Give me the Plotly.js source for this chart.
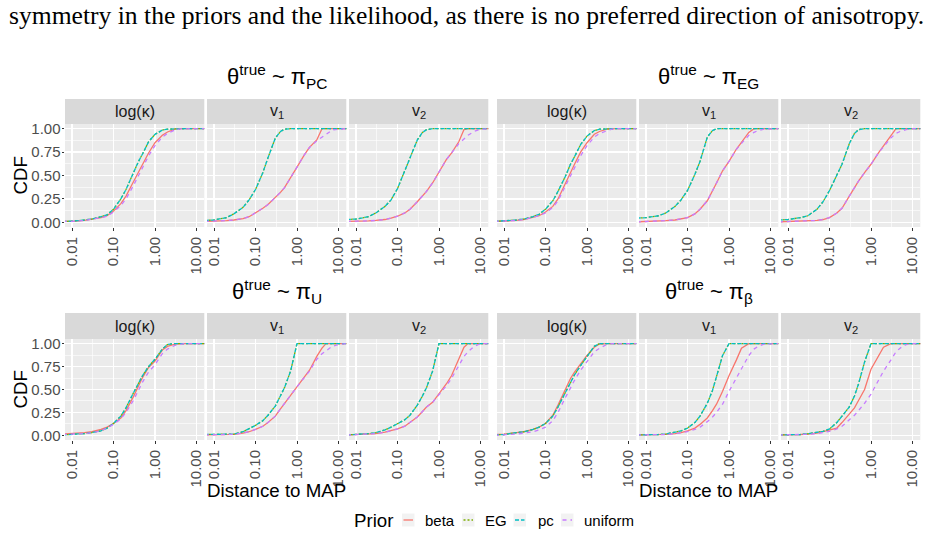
<!DOCTYPE html>
<html>
<head>
<meta charset="utf-8">
<script src="https://cdn.plot.ly/plotly-3.0.1.min.js"></script>
<style>
  html, body { margin: 0; padding: 0; background: #ffffff; }
  #chart { width: 931px; height: 535px; }
</style>
</head>
<body>
<div id="chart"></div>
<script>
const distance = [0.006, 0.01, 0.02, 0.03, 0.05, 0.07, 0.1, 0.15, 0.2, 0.3, 0.4, 0.5, 0.7, 1, 1.5, 2, 3, 4, 5, 7, 10, 16];

const priors = ['beta', 'EG', 'pc', 'uniform'];
const facetLabels = ['log(κ)', 'v<sub>1</sub>', 'v<sub>2</sub>'];
const groupLabels = ['PC', 'EG', 'U', 'β'];
const xTickVals = [0.01, 0.1, 1, 10];
const xTickText = ['0.01', '0.10', '1.00', '10.00'];
const yTickVals = [0, 0.25, 0.5, 0.75, 1];
const yTickText = ['0.00', '0.25', '0.50', '0.75', '1.00'];

// theta_true ~ pi_PC
const cdfPC_logk = {
  beta:    [0.01, 0.01, 0.02, 0.03, 0.05, 0.07, 0.12, 0.20, 0.28, 0.43, 0.54, 0.62, 0.74, 0.85, 0.93, 0.965, 0.995, 1, 1, 1, 1, 1],
  EG:      [0.01, 0.012, 0.025, 0.035, 0.06, 0.08, 0.14, 0.25, 0.35, 0.53, 0.65, 0.73, 0.86, 0.94, 0.985, 0.995, 1, 1, 1, 1, 1, 1],
  pc:      [0.01, 0.012, 0.025, 0.035, 0.06, 0.08, 0.14, 0.25, 0.35, 0.53, 0.65, 0.73, 0.86, 0.94, 0.985, 0.995, 1, 1, 1, 1, 1, 1],
  uniform: [0.01, 0.01, 0.02, 0.03, 0.05, 0.065, 0.11, 0.18, 0.25, 0.39, 0.50, 0.58, 0.71, 0.82, 0.91, 0.95, 0.985, 0.997, 1, 1, 1, 1]
};
const cdfPC_v1 = {
  beta:    [0.01, 0.012, 0.018, 0.025, 0.04, 0.06, 0.10, 0.15, 0.19, 0.26, 0.32, 0.37, 0.47, 0.59, 0.72, 0.80, 0.88, 1, 1, 1, 1, 1],
  EG:      [0.02, 0.025, 0.05, 0.09, 0.16, 0.24, 0.35, 0.53, 0.69, 0.90, 0.97, 0.995, 1, 1, 1, 1, 1, 1, 1, 1, 1, 1],
  pc:      [0.02, 0.025, 0.05, 0.09, 0.16, 0.24, 0.35, 0.53, 0.69, 0.90, 0.97, 0.995, 1, 1, 1, 1, 1, 1, 1, 1, 1, 1],
  uniform: [0.01, 0.012, 0.018, 0.025, 0.04, 0.06, 0.10, 0.15, 0.19, 0.26, 0.32, 0.37, 0.47, 0.59, 0.72, 0.80, 0.87, 0.91, 0.94, 0.985, 0.995, 1]
};
const cdfPC_v2 = {
  beta:    [0.01, 0.01, 0.015, 0.02, 0.03, 0.045, 0.065, 0.10, 0.14, 0.22, 0.28, 0.33, 0.42, 0.54, 0.67, 0.74, 0.86, 0.99, 1, 1, 1, 1],
  EG:      [0.03, 0.035, 0.06, 0.10, 0.17, 0.24, 0.36, 0.56, 0.69, 0.88, 0.96, 0.99, 1, 1, 1, 1, 1, 1, 1, 1, 1, 1],
  pc:      [0.03, 0.035, 0.06, 0.10, 0.17, 0.24, 0.36, 0.56, 0.69, 0.88, 0.96, 0.99, 1, 1, 1, 1, 1, 1, 1, 1, 1, 1],
  uniform: [0.01, 0.01, 0.015, 0.02, 0.03, 0.045, 0.065, 0.10, 0.14, 0.22, 0.28, 0.33, 0.42, 0.54, 0.67, 0.74, 0.84, 0.89, 0.93, 0.97, 0.995, 1]
};

// theta_true ~ pi_EG
const cdfEG_logk = {
  beta:    [0.01, 0.012, 0.02, 0.03, 0.05, 0.07, 0.11, 0.17, 0.25, 0.42, 0.54, 0.62, 0.75, 0.85, 0.94, 0.97, 0.995, 1, 1, 1, 1, 1],
  EG:      [0.01, 0.015, 0.025, 0.035, 0.06, 0.085, 0.14, 0.23, 0.33, 0.49, 0.62, 0.70, 0.83, 0.92, 0.98, 0.995, 1, 1, 1, 1, 1, 1],
  pc:      [0.01, 0.015, 0.025, 0.035, 0.06, 0.085, 0.14, 0.23, 0.33, 0.49, 0.62, 0.70, 0.83, 0.92, 0.98, 0.995, 1, 1, 1, 1, 1, 1],
  uniform: [0.01, 0.012, 0.02, 0.03, 0.05, 0.07, 0.10, 0.16, 0.23, 0.38, 0.50, 0.58, 0.71, 0.82, 0.91, 0.95, 0.98, 0.995, 1, 1, 1, 1]
};
const cdfEG_v1 = {
  beta:    [0.005, 0.007, 0.012, 0.018, 0.025, 0.035, 0.05, 0.09, 0.14, 0.23, 0.33, 0.42, 0.55, 0.65, 0.78, 0.85, 0.96, 1, 1, 1, 1, 1],
  EG:      [0.045, 0.05, 0.07, 0.10, 0.17, 0.24, 0.34, 0.51, 0.65, 0.91, 0.98, 1, 1, 1, 1, 1, 1, 1, 1, 1, 1, 1],
  pc:      [0.045, 0.05, 0.07, 0.10, 0.17, 0.24, 0.34, 0.51, 0.65, 0.91, 0.98, 1, 1, 1, 1, 1, 1, 1, 1, 1, 1, 1],
  uniform: [0.005, 0.007, 0.012, 0.018, 0.025, 0.035, 0.05, 0.09, 0.14, 0.23, 0.33, 0.42, 0.55, 0.65, 0.78, 0.84, 0.93, 0.96, 0.98, 0.995, 1, 1]
};
const cdfEG_v2 = {
  beta:    [0.005, 0.007, 0.01, 0.013, 0.02, 0.03, 0.05, 0.10, 0.15, 0.28, 0.37, 0.44, 0.53, 0.62, 0.74, 0.82, 0.92, 1, 1, 1, 1, 1],
  EG:      [0.025, 0.03, 0.05, 0.07, 0.14, 0.22, 0.34, 0.50, 0.62, 0.84, 0.95, 0.99, 1, 1, 1, 1, 1, 1, 1, 1, 1, 1],
  pc:      [0.025, 0.03, 0.05, 0.07, 0.14, 0.22, 0.34, 0.50, 0.62, 0.84, 0.95, 0.99, 1, 1, 1, 1, 1, 1, 1, 1, 1, 1],
  uniform: [0.005, 0.007, 0.01, 0.013, 0.02, 0.03, 0.05, 0.10, 0.15, 0.28, 0.37, 0.44, 0.53, 0.62, 0.74, 0.81, 0.90, 0.95, 0.97, 0.99, 1, 1]
};

// theta_true ~ pi_U
const cdfU_logk = {
  beta:    [0.015, 0.02, 0.03, 0.04, 0.065, 0.09, 0.13, 0.19, 0.27, 0.42, 0.54, 0.63, 0.74, 0.81, 0.93, 0.97, 0.995, 1, 1, 1, 1, 1],
  EG:      [0.005, 0.01, 0.02, 0.03, 0.05, 0.08, 0.13, 0.21, 0.30, 0.46, 0.57, 0.65, 0.75, 0.83, 0.94, 0.99, 1, 1, 1, 1, 1, 1],
  pc:      [0.005, 0.01, 0.02, 0.03, 0.05, 0.08, 0.13, 0.21, 0.30, 0.46, 0.57, 0.65, 0.75, 0.83, 0.94, 0.99, 1, 1, 1, 1, 1, 1],
  uniform: [0.01, 0.012, 0.02, 0.03, 0.05, 0.08, 0.12, 0.18, 0.25, 0.38, 0.49, 0.58, 0.69, 0.77, 0.89, 0.94, 0.98, 0.995, 1, 1, 1, 1]
};
const cdfU_v1 = {
  beta:    [0.005, 0.005, 0.008, 0.012, 0.025, 0.04, 0.065, 0.10, 0.14, 0.21, 0.29, 0.35, 0.43, 0.53, 0.64, 0.71, 0.86, 0.95, 1, 1, 1, 1],
  EG:      [0.01, 0.01, 0.012, 0.015, 0.04, 0.07, 0.11, 0.16, 0.22, 0.32, 0.43, 0.52, 0.70, 1, 1, 1, 1, 1, 1, 1, 1, 1],
  pc:      [0.01, 0.01, 0.012, 0.015, 0.04, 0.07, 0.11, 0.16, 0.22, 0.32, 0.43, 0.52, 0.70, 1, 1, 1, 1, 1, 1, 1, 1, 1],
  uniform: [0.005, 0.005, 0.008, 0.012, 0.025, 0.04, 0.065, 0.10, 0.14, 0.21, 0.29, 0.35, 0.43, 0.53, 0.63, 0.70, 0.83, 0.89, 0.92, 0.97, 0.99, 1]
};
const cdfU_v2 = {
  beta:    [0.005, 0.008, 0.015, 0.02, 0.035, 0.05, 0.07, 0.10, 0.14, 0.20, 0.26, 0.31, 0.36, 0.45, 0.56, 0.65, 0.83, 0.96, 1, 1, 1, 1],
  EG:      [0.005, 0.008, 0.02, 0.03, 0.06, 0.09, 0.125, 0.17, 0.22, 0.33, 0.43, 0.52, 0.70, 1, 1, 1, 1, 1, 1, 1, 1, 1],
  pc:      [0.005, 0.008, 0.02, 0.03, 0.06, 0.09, 0.125, 0.17, 0.22, 0.33, 0.43, 0.52, 0.70, 1, 1, 1, 1, 1, 1, 1, 1, 1],
  uniform: [0.005, 0.008, 0.015, 0.02, 0.035, 0.05, 0.07, 0.10, 0.14, 0.20, 0.26, 0.31, 0.36, 0.44, 0.54, 0.62, 0.77, 0.86, 0.91, 0.97, 1, 1]
};

// theta_true ~ pi_beta
const cdfB_logk = {
  beta:    [0.01, 0.015, 0.03, 0.04, 0.065, 0.09, 0.13, 0.22, 0.33, 0.50, 0.62, 0.69, 0.78, 0.87, 0.96, 0.995, 1, 1, 1, 1, 1, 1],
  EG:      [0.005, 0.01, 0.03, 0.04, 0.065, 0.09, 0.13, 0.21, 0.31, 0.47, 0.58, 0.66, 0.76, 0.86, 0.97, 1, 1, 1, 1, 1, 1, 1],
  pc:      [0.005, 0.01, 0.03, 0.04, 0.065, 0.09, 0.13, 0.21, 0.31, 0.47, 0.58, 0.66, 0.76, 0.86, 0.97, 1, 1, 1, 1, 1, 1, 1],
  uniform: [0.0, 0.005, 0.015, 0.025, 0.04, 0.06, 0.09, 0.16, 0.25, 0.41, 0.52, 0.60, 0.71, 0.81, 0.91, 0.95, 0.99, 1, 1, 1, 1, 1]
};
const cdfB_v1 = {
  beta:    [0.005, 0.005, 0.01, 0.012, 0.02, 0.03, 0.05, 0.08, 0.12, 0.19, 0.27, 0.34, 0.48, 0.65, 0.82, 0.95, 1, 1, 1, 1, 1, 1],
  EG:      [0.005, 0.005, 0.01, 0.015, 0.035, 0.05, 0.08, 0.14, 0.21, 0.35, 0.49, 0.64, 0.87, 1, 1, 1, 1, 1, 1, 1, 1, 1],
  pc:      [0.005, 0.005, 0.01, 0.015, 0.035, 0.05, 0.08, 0.14, 0.21, 0.35, 0.49, 0.64, 0.87, 1, 1, 1, 1, 1, 1, 1, 1, 1],
  uniform: [0.005, 0.005, 0.008, 0.01, 0.018, 0.025, 0.04, 0.065, 0.09, 0.15, 0.20, 0.25, 0.34, 0.48, 0.62, 0.73, 0.87, 0.94, 0.97, 0.995, 1, 1]
};
const cdfB_v2 = {
  beta:    [0.005, 0.005, 0.01, 0.015, 0.025, 0.04, 0.055, 0.08, 0.14, 0.23, 0.30, 0.38, 0.50, 0.72, 0.87, 0.96, 1, 1, 1, 1, 1, 1],
  EG:      [0.005, 0.005, 0.01, 0.018, 0.03, 0.045, 0.07, 0.14, 0.21, 0.31, 0.43, 0.56, 0.80, 1, 1, 1, 1, 1, 1, 1, 1, 1],
  pc:      [0.005, 0.005, 0.01, 0.018, 0.03, 0.045, 0.07, 0.14, 0.21, 0.31, 0.43, 0.56, 0.80, 1, 1, 1, 1, 1, 1, 1, 1, 1],
  uniform: [0.005, 0.005, 0.008, 0.012, 0.02, 0.03, 0.045, 0.07, 0.10, 0.17, 0.22, 0.27, 0.35, 0.45, 0.60, 0.70, 0.82, 0.91, 0.95, 0.99, 1, 1]
};

// ---- styling ----
const priorColors = ['#F8766D', '#7CAE00', '#00BFC4', '#C77CFF'];
const priorDash = ['solid', '2px,2px', '4px,2px', '4px,4px'];
const SANS = '"Liberation Sans", Arial, Helvetica, sans-serif';
const SMALL = 15;      // tick, strip-free small text
const STRIP = 16;
const BASE = 18.7;

// ---- page geometry (pixels) ----
const W = 931, H = 535;
const colX = [65, 207, 349, 497, 639, 781];
const panelW = 139.3;
const rows = [
  { stripTop: 99, top: 124, bottom: 227, titleY: 77 },
  { stripTop: 313, top: 339, bottom: 440, titleY: 291 }
];
const groupCenters = [276.7, 708.5];
const px = v => v / W;
const py = v => 1 - v / H;

const groups = [
  { label: groupLabels[0], row: 0, col: 0, data: [cdfPC_logk, cdfPC_v1, cdfPC_v2] },
  { label: groupLabels[1], row: 0, col: 1, data: [cdfEG_logk, cdfEG_v1, cdfEG_v2] },
  { label: groupLabels[2], row: 1, col: 0, data: [cdfU_logk, cdfU_v1, cdfU_v2] },
  { label: groupLabels[3], row: 1, col: 1, data: [cdfB_logk, cdfB_v1, cdfB_v2] }
];

const traces = [];
const shapes = [];
const annotations = [];
const layout = {
  width: W, height: H,
  margin: { l: 0, r: 0, t: 0, b: 0 },
  paper_bgcolor: '#ffffff',
  plot_bgcolor: '#EBEBEB',
  showlegend: false,
  font: { family: SANS, color: '#1A1A1A' }
};

groups.forEach((g, gi) => {
  const r = rows[g.row];
  g.data.forEach((facet, fi) => {
    const k = gi * 3 + fi + 1;
    const sfx = k === 1 ? '' : String(k);
    const left = colX[g.col * 3 + fi];
    const firstCol = (g.col === 0 && fi === 0);

    layout['xaxis' + sfx] = {
      type: 'log',
      domain: [px(left), px(left + panelW)],
      anchor: 'y' + sfx,
      range: [-2.169, 1.188],
      tickmode: 'array', tickvals: xTickVals, ticktext: xTickText,
      tickangle: -90,
      tickfont: { family: SANS, size: SMALL, color: '#4D4D4D' },
      ticks: 'outside', ticklen: 3, tickwidth: 1, tickcolor: '#333333',
      showgrid: true, gridcolor: '#FFFFFF', gridwidth: 1.2,
      minor: { tickmode: 'array', tickvals: [0.0316, 0.316, 3.16], showgrid: true, gridcolor: '#FFFFFF', gridwidth: 0.6 },
      zeroline: false, showline: false, fixedrange: true
    };
    layout['yaxis' + sfx] = {
      domain: [py(r.bottom), py(r.top)],
      anchor: 'x' + sfx,
      range: [-0.05, 1.05],
      tickmode: 'array', tickvals: yTickVals, ticktext: yTickText,
      showticklabels: firstCol,
      ticks: firstCol ? 'outside' : '', ticklen: 2.5, tickwidth: 1, tickcolor: '#333333',
      ticklabelstandoff: -2,
      tickfont: { family: SANS, size: SMALL, color: '#4D4D4D' },
      showgrid: true, gridcolor: '#FFFFFF', gridwidth: 1.2,
      minor: { tickmode: 'array', tickvals: [0.125, 0.375, 0.625, 0.875], showgrid: true, gridcolor: '#FFFFFF', gridwidth: 0.6 },
      zeroline: false, showline: false, fixedrange: true
    };

    priors.forEach((p, pi) => {
      traces.push({
        type: 'scatter', mode: 'lines',
        x: distance, y: facet[p],
        xaxis: 'x' + sfx, yaxis: 'y' + sfx,
        line: { color: priorColors[pi], dash: priorDash[pi], width: 1.3 },
        hoverinfo: 'skip', name: p
      });
    });

    // facet strip
    shapes.push({
      type: 'rect', xref: 'paper', yref: 'paper',
      x0: px(left), x1: px(left + panelW), y0: py(r.top), y1: py(r.stripTop),
      fillcolor: '#D9D9D9', line: { width: 0 }
    });
    annotations.push({
      xref: 'paper', yref: 'paper',
      x: px(left + panelW / 2), y: py((r.top + r.stripTop) / 2),
      xanchor: 'center', yanchor: 'middle', showarrow: false,
      text: facetLabels[fi],
      font: { family: SANS, size: STRIP, color: '#1A1A1A' }
    });
  });

  // group title
  annotations.push({
    xref: 'paper', yref: 'paper',
    x: px(groupCenters[g.col]), y: py(r.titleY),
    xanchor: 'center', yanchor: 'middle', showarrow: false,
    text: 'θ<sup>true</sup> ~ π<sub>' + g.label + '</sub>',
    font: { family: SANS, size: 22, color: '#000000' }
  });

  // axis titles
  if (g.col === 0) {
    annotations.push({
      xref: 'paper', yref: 'paper',
      x: px(20), y: py((r.top + r.bottom) / 2),
      xanchor: 'center', yanchor: 'middle', showarrow: false, textangle: -90,
      text: 'CDF', font: { family: SANS, size: BASE, color: '#000000' }
    });
  }
  if (g.row === 1) {
    annotations.push({
      xref: 'paper', yref: 'paper',
      x: px(groupCenters[g.col]), y: py(490),
      xanchor: 'center', yanchor: 'middle', showarrow: false,
      text: 'Distance to MAP', font: { family: SANS, size: BASE, color: '#000000' }
    });
  }
});

// legend: title, key boxes with line samples, labels
const legendY = 520;
const keyX = [402, 462, 513.5, 561];
const labelX = [423, 483, 536, 582];
annotations.push({
  xref: 'paper', yref: 'paper', x: px(352), y: py(legendY),
  xanchor: 'left', yanchor: 'middle', showarrow: false,
  text: 'Prior', font: { family: SANS, size: BASE, color: '#000000' }
});
priors.forEach((p, pi) => {
  shapes.push({
    type: 'rect', xref: 'paper', yref: 'paper',
    x0: px(keyX[pi]), x1: px(keyX[pi] + 12.5), y0: py(legendY + 6.5), y1: py(legendY - 6.5),
    fillcolor: '#F2F2F2', line: { width: 0 }
  });
  shapes.push({
    type: 'line', xref: 'paper', yref: 'paper',
    x0: px(keyX[pi] + 1.5), x1: px(keyX[pi] + 11), y0: py(legendY), y1: py(legendY),
    line: { color: priorColors[pi], dash: priorDash[pi], width: 1.3 }
  });
  annotations.push({
    xref: 'paper', yref: 'paper', x: px(labelX[pi]), y: py(legendY),
    xanchor: 'left', yanchor: 'middle', showarrow: false,
    text: p, font: { family: SANS, size: SMALL, color: '#000000' }
  });
});

// running text line above the figure
annotations.push({
  xref: 'paper', yref: 'paper', x: px(7), y: py(15),
  xanchor: 'left', yanchor: 'middle', showarrow: false,
  text: 'symmetry in the priors and the likelihood, as there is no preferred direction of anisotropy.',
  font: { family: '"Liberation Serif", "Times New Roman", serif', size: 25.6, color: '#000000' }
});

layout.shapes = shapes;
layout.annotations = annotations;

Plotly.newPlot('chart', traces, layout, { staticPlot: true, displayModeBar: false });
</script>
</body>
</html>
